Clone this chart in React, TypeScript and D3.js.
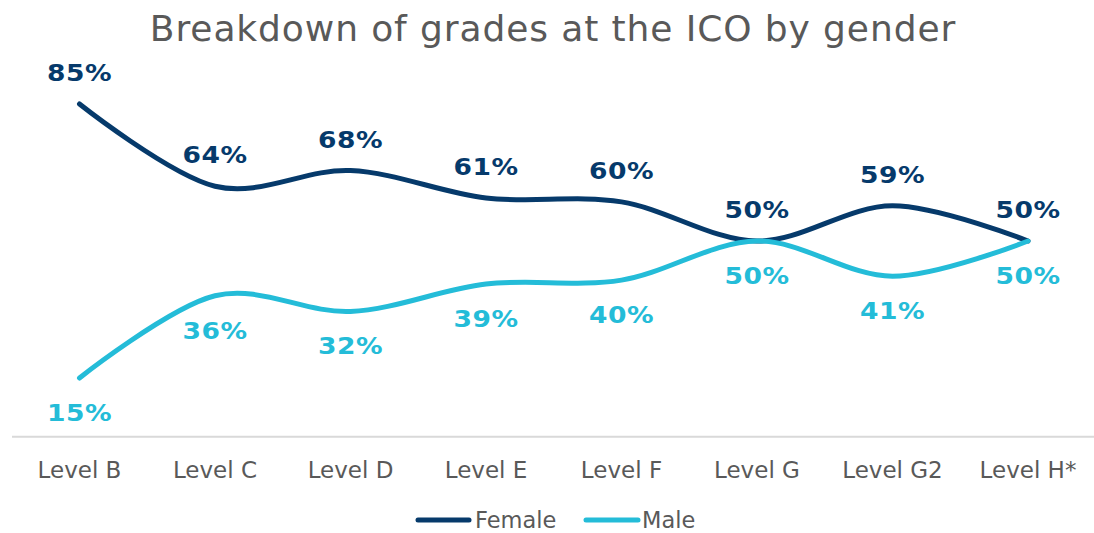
import React from "react";
import * as d3 from "d3";

const categories = ["Level B", "Level C", "Level D", "Level E", "Level F", "Level G", "Level G2", "Level H*"];
const femaleValues = [85, 64, 68, 61, 60, 50, 59, 50];
const maleValues = [15, 36, 32, 39, 40, 50, 41, 50];
const seriesNames = ["Female", "Male"];

const W = 1094;
const H = 533;
const NAVY = "#063a6b";
const CYAN = "#24bcd8";
const GRAY = "#595959";
const FONT = "Verdana, 'DejaVu Sans', sans-serif";

export default function App() {
  const x = d3.scalePoint<string>().domain(categories).range([79.5, 1028]);
  const y = d3.scaleLinear().domain([0, 100]).range([436.7, 45.3]);
  const line = d3
    .line<number>()
    .x((_, i) => x(categories[i]) as number)
    .y((d) => y(d))
    .curve(d3.curveCardinal.tension(0));

  const series = [
    { name: seriesNames[0], values: femaleValues, color: NAVY, dy: -23 },
    { name: seriesNames[1], values: maleValues, color: CYAN, dy: 43 },
  ];

  return (
    <svg
      width={W}
      height={H}
      style={{ position: "absolute", left: 0, top: 0, background: "#fff" }}
      fontFamily={FONT}
    >
      <text x={553} y={41} textAnchor="middle" fontSize={36} fill={GRAY} letterSpacing={0.9}>
        Breakdown of grades at the ICO by gender
      </text>
      <line x1={12} x2={1094} y1={y(0)} y2={y(0)} stroke="#d9d9d9" strokeWidth={2} />
      {categories.map((c) => (
        <text key={c} x={x(c)} y={478} textAnchor="middle" fontSize={23} fill={GRAY}>
          {c}
        </text>
      ))}
      {series.map((s) => (
        <path
          key={s.name}
          d={line(s.values) || ""}
          fill="none"
          stroke={s.color}
          strokeWidth={5}
          strokeLinecap="round"
        />
      ))}
      {series.map((s) =>
        s.values.map((v, i) => (
          <text
            key={s.name + i}
            transform={`translate(${x(categories[i])},${y(v) + s.dy}) scale(1.13,1)`}
            textAnchor="middle"
            fontSize={23.5}
            fontWeight="bold"
            fill={s.color}
            letterSpacing={0.4}
          >
            {v}%
          </text>
        ))
      )}
      <g>
        <line x1={418} x2={469} y1={520} y2={520} stroke={NAVY} strokeWidth={5} strokeLinecap="round" />
        <text x={475} y={528} fontSize={22.5} fill={GRAY}>
          {seriesNames[0]}
        </text>
        <line x1={586} x2={638} y1={520} y2={520} stroke={CYAN} strokeWidth={5} strokeLinecap="round" />
        <text x={642} y={528} fontSize={22.5} fill={GRAY}>
          {seriesNames[1]}
        </text>
      </g>
    </svg>
  );
}
